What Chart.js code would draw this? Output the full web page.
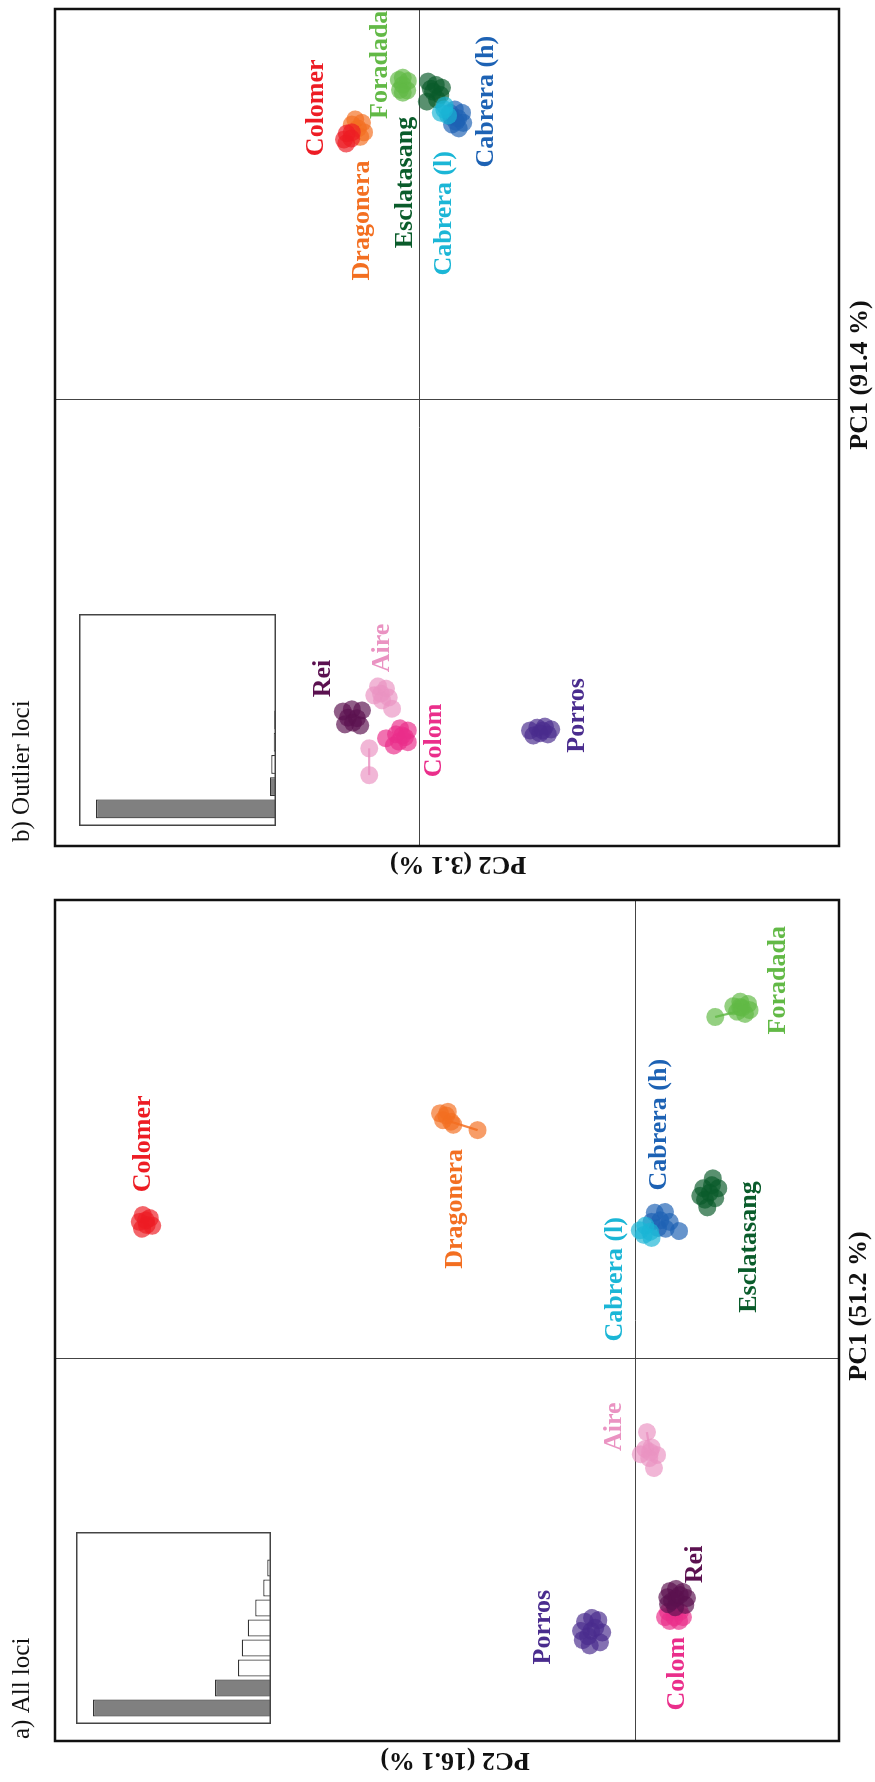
<!DOCTYPE html>
<html>
<head>
<meta charset="utf-8">
<title>DAPC scatterplots</title>
<script src="https://cdn.jsdelivr.net/npm/chart.js@4.4.1/dist/chart.umd.min.js"></script>
<style>
  html, body { margin: 0; padding: 0; background: #fff; }
  body { width: 875px; height: 1782px; overflow: hidden; position: relative; }
  /* the figure is laid out landscape and turned a quarter turn counter-clockwise */
  #fig { position: absolute; left: 0; top: 1782px; width: 1782px; height: 875px;
         transform-origin: 0 0; transform: rotate(-90deg); background: #fff; }
  #fig canvas { position: absolute; }
</style>
</head>
<body>
<div id="fig"></div>
<script>
// ---- populations (also the drawing order) ----
const populations = ['Dragonera', 'Colomer', 'Foradada', 'Esclatasang', 'Cabrera (h)',
                     'Cabrera (l)', 'Aire', 'Colom', 'Rei', 'Porros'];
const popColors = ['#f36f21', '#ed1c24', '#62b946', '#0a5c2b', '#1d62b4',
                   '#1bb6d6', '#ea93c2', '#ea2e8b', '#5b1150', '#4a2c8e'];

// ---- a) all loci: individual scores on PC1 / PC2, one list per population ----
const allPC1 = [
  [3.21, 3.18, 3.10, 3.12, 3.23, 3.06, 2.99],
  [1.88, 1.84, 1.79, 1.75, 1.74, 1.70, 1.81],
  [4.67, 4.64, 4.61, 4.59, 4.56, 4.54, 4.51, 4.60, 4.47],
  [2.36, 2.23, 2.23, 2.17, 2.13, 2.10, 1.98, 2.27, 2.08],
  [1.91, 1.92, 1.81, 1.79, 1.79, 1.70, 1.67, 1.71],
  [1.74, 1.66, 1.62, 1.58, 1.68],
  [-0.96, -1.18, -1.16, -1.25, -1.26, -1.30, -1.43, -1.22],
  [-3.38, -3.31, -3.31, -3.43, -3.43, -3.38, -3.38, -3.29],
  [-3.13, -3.04, -3.05, -3.21, -3.22, -3.01, -3.25, -3.12, -3.13, -3.17, -3.09],
  [-3.56, -3.44, -3.42, -3.68, -3.71, -3.39, -3.75, -3.56, -3.58, -3.63, -3.52]
];
const allPC2 = [
  [2.49, 2.41, 2.35, 2.45, 2.39, 2.32, 2.01],
  [6.28, 6.19, 6.32, 6.23, 6.16, 6.29, 6.24],
  [-1.34, -1.44, -1.25, -1.36, -1.46, -1.30, -1.40, -1.34, -1.02],
  [-0.99, -0.87, -1.06, -0.95, -0.83, -1.02, -0.92, -0.98, -0.89],
  [-0.25, -0.38, -0.32, -0.44, -0.21, -0.39, -0.56, -0.29],
  [-0.13, -0.19, -0.11, -0.21, -0.06],
  [-0.15, -0.13, -0.21, -0.07, -0.28, -0.18, -0.24, -0.19],
  [-0.50, -0.42, -0.57, -0.44, -0.56, -0.38, -0.61, -0.50],
  [-0.52, -0.44, -0.61, -0.42, -0.64, -0.52, -0.51, -0.41, -0.66, -0.47, -0.57],
  [0.56, 0.64, 0.47, 0.67, 0.45, 0.55, 0.58, 0.69, 0.42, 0.60, 0.51]
];
// segments joining individuals: [population, from, to]
const allLinks = [[0, 6, 2], [2, 8, 5], [6, 0, 7]];

// ---- b) outlier loci ----
const outPC1 = [
  [5.02, 4.96, 4.86, 4.79, 4.93, 4.71],
  [4.77, 4.66, 4.68, 4.59, 4.79],
  [5.64, 5.73, 5.71, 5.55, 5.54, 5.77, 5.50],
  [5.70, 5.64, 5.59, 5.52, 5.46, 5.34, 5.38, 5.57],
  [5.20, 5.14, 5.07, 5.04, 4.96, 4.93, 4.86, 4.98, 5.14],
  [5.27, 5.14, 5.09, 5.20],
  [-5.14, -5.18, -5.27, -5.30, -5.34, -5.39, -5.54, -6.25, -6.73],
  [-5.89, -5.93, -6.00, -6.05, -6.07, -6.13, -6.14, -6.20, -6.02],
  [-5.59, -5.55, -5.57, -5.70, -5.71, -5.82, -5.84, -5.79],
  [-5.93, -5.88, -5.86, -5.91, -5.98, -6.00, -6.02, -5.93]
];
const outPC2 = [
  [1.14, 1.02, 1.09, 0.98, 1.20, 1.05],
  [1.29, 1.34, 1.21, 1.30, 1.20],
  [0.29, 0.36, 0.20, 0.34, 0.21, 0.29, 0.29],
  [-0.16, -0.30, -0.41, -0.25, -0.38, -0.14, -0.32, -0.21],
  [-0.64, -0.77, -0.57, -0.70, -0.79, -0.59, -0.71, -0.66, -0.55],
  [-0.46, -0.39, -0.52, -0.45],
  [0.73, 0.59, 0.68, 0.80, 0.54, 0.66, 0.48, 0.89, 0.89],
  [0.34, 0.20, 0.41, 0.25, 0.59, 0.36, 0.20, 0.45, 0.30],
  [1.36, 1.20, 1.02, 1.27, 1.11, 1.32, 1.05, 1.18],
  [-1.98, -2.11, -2.25, -2.36, -2.16, -2.30, -2.04, -2.21]
];
const outLinks = [[6, 7, 8]];

// ---- eigenvalues (% of variance) of the discriminant axes ----
const eigAll = [51.2, 16.1, 9.5, 8.4, 6.7, 4.5, 2.2, 1.1, 0.3];
const eigOut = [91.4, 3.1, 2.4, 1.2, 0.9, 0.4, 0.3, 0.2, 0.1];
const retainedAxes = 2;

// ---- where each population name sits, in (PC1, PC2) units ----
const labelPosAll = [[1.96, 2.30], [2.81, 6.27], [4.95, -1.82], [1.46, -1.46], [3.06, -0.31],
                     [1.04, 0.25], [-0.89, 0.27], [-4.12, -0.54], [-2.69, -0.77], [-3.51, 1.17]];
const labelPosOut = [[3.21, 1.02], [5.23, 1.84], [6.00, 0.70], [3.89, 0.25], [5.34, -1.20],
                     [3.34, -0.46], [-4.45, 0.66], [-6.11, -0.27], [-5.00, 1.71], [-5.66, -2.82]];

// ---- panel layout (landscape coordinates before the turn) ----
const SERIF = '"Liberation Serif", "Times New Roman", Times, serif';
const panels = [
  { id: 'pcaAll', left: 0, width: 900, pad: { left: 41, right: 18, top: 55, bottom: 36 },
    xRange: [-5, 6], yRange: [-2.6, 7.4], pc1: allPC1, pc2: allPC2, links: allLinks,
    labels: labelPosAll, eig: eigAll, heading: 'a) All loci', headingAt: [43, 22],
    pc1At: [476, 859], pc2At: [22, 455],
    inset: { id: 'eigAll', left: 58, top: 76, width: 192, height: 195, max: 56.1 } },
  { id: 'pcaOut', left: 900, width: 882, pad: { left: 36, right: 6, top: 55, bottom: 36 },
    xRange: [-8, 7], yRange: [-7.5, 6.5], pc1: outPC1, pc2: outPC2, links: outLinks,
    labels: labelPosOut, eig: eigOut, heading: 'b) Outlier loci', headingAt: [40, 22],
    pc1At: [507, 860], pc2At: [18, 458],
    inset: { id: 'eigOut', left: 956, top: 79, width: 212, height: 197, max: 100 } }
];

function rgba(hex, a) {
  const n = parseInt(hex.slice(1), 16);
  return `rgba(${(n >> 16) & 255},${(n >> 8) & 255},${n & 255},${a})`;
}

function makeCanvas(id, left, top, w, h) {
  const c = document.createElement('canvas');
  c.id = id; c.width = w; c.height = h;
  c.style.left = left + 'px'; c.style.top = top + 'px';
  c.style.width = w + 'px'; c.style.height = h + 'px';
  document.getElementById('fig').appendChild(c);
  return c;
}

const decor = {
  id: 'decor',
  beforeDatasetsDraw(chart, args, opts) {
    const { ctx, chartArea: a, scales: { x, y } } = chart;
    ctx.save();
    ctx.strokeStyle = '#444';
    ctx.lineWidth = 1;
    const x0 = Math.round(x.getPixelForValue(0)) + 0.5;
    const y0 = Math.round(y.getPixelForValue(0)) + 0.5;
    ctx.beginPath();
    ctx.moveTo(x0, a.top); ctx.lineTo(x0, a.bottom);
    ctx.moveTo(a.left, y0); ctx.lineTo(a.right, y0);
    ctx.stroke();
    ctx.restore();
  },
  afterDraw(chart, args, opts) {
    const { ctx, chartArea: a, scales: { x, y } } = chart;
    const p = opts.panel;
    ctx.save();
    // frame
    ctx.strokeStyle = '#111';
    ctx.lineWidth = 2.5;
    ctx.strokeRect(a.left, a.top, a.right - a.left, a.bottom - a.top);
    // population names
    ctx.font = 'bold 26px ' + SERIF;
    ctx.textAlign = 'center';
    ctx.textBaseline = 'middle';
    populations.forEach((name, g) => {
      ctx.fillStyle = popColors[g];
      ctx.fillText(name, x.getPixelForValue(p.labels[g][0]), y.getPixelForValue(p.labels[g][1]));
    });
    // axis titles
    ctx.fillStyle = '#111';
    ctx.fillText(`PC1 (${p.eig[0]} %)`, p.pc1At[0], p.pc1At[1]);
    ctx.save();
    ctx.translate(p.pc2At[0], p.pc2At[1]);
    ctx.rotate(-Math.PI / 2);
    ctx.fillText(`PC2 (${p.eig[1]} %)`, 0, 0);
    ctx.restore();
    // panel heading
    ctx.font = '25px ' + SERIF;
    ctx.textAlign = 'left';
    ctx.fillText(p.heading, p.headingAt[0], p.headingAt[1]);
    ctx.restore();
  }
};

const insetBox = {
  id: 'insetBox',
  afterDraw(chart) {
    const ctx = chart.ctx;
    ctx.save();
    ctx.strokeStyle = '#444';
    ctx.lineWidth = 1.5;
    ctx.strokeRect(0.75, 0.75, chart.width - 1.5, chart.height - 1.5);
    ctx.restore();
  }
};

panels.forEach(p => {
  const canvas = makeCanvas(p.id, p.left, 0, p.width, 875);
  const datasets = [];
  let order = 1;
  // segments drawn over the dots
  p.links.forEach(([g, i, j]) => {
    datasets.push({
      data: [{ x: p.pc1[g][i], y: p.pc2[g][i] }, { x: p.pc1[g][j], y: p.pc2[g][j] }],
      showLine: true, borderColor: rgba(popColors[g], 0.85), borderWidth: 2.2,
      pointRadius: 0, order: order++
    });
  });
  // individuals, later populations on top
  for (let g = populations.length - 1; g >= 0; g--) {
    datasets.push({
      label: populations[g],
      data: p.pc1[g].map((v, i) => ({ x: v, y: p.pc2[g][i] })),
      backgroundColor: rgba(popColors[g], 0.68), borderWidth: 0,
      pointRadius: 9, pointHoverRadius: 9, order: order++
    });
  }
  new Chart(canvas, {
    type: 'scatter',
    data: { datasets },
    options: {
      responsive: false, animation: false, events: [],
      layout: { padding: p.pad },
      scales: {
        x: { type: 'linear', min: p.xRange[0], max: p.xRange[1], display: false },
        y: { type: 'linear', min: p.yRange[0], max: p.yRange[1], display: false }
      },
      plugins: { legend: { display: false }, tooltip: { enabled: false }, decor: { panel: p } }
    },
    plugins: [decor]
  });

  // scree plot of the discriminant eigenvalues
  const ins = p.inset;
  const ic = makeCanvas(ins.id, ins.left, ins.top, ins.width, ins.height);
  new Chart(ic, {
    type: 'bar',
    data: {
      labels: p.eig.map((_, i) => String(i + 1)),
      datasets: [{
        data: p.eig,
        backgroundColor: p.eig.map((_, i) => i < retainedAxes ? '#808080' : '#ffffff'),
        borderColor: '#333', borderWidth: 1.2,
        barPercentage: 0.85, categoryPercentage: 1
      }]
    },
    options: {
      responsive: false, animation: false, events: [],
      layout: { padding: { left: 6, right: 6, top: 0, bottom: 0 } },
      scales: {
        x: { display: false, offset: true },
        y: { display: false, min: 0, max: ins.max }
      },
      plugins: { legend: { display: false }, tooltip: { enabled: false } }
    },
    plugins: [insetBox]
  });
});
</script>
</body>
</html>
